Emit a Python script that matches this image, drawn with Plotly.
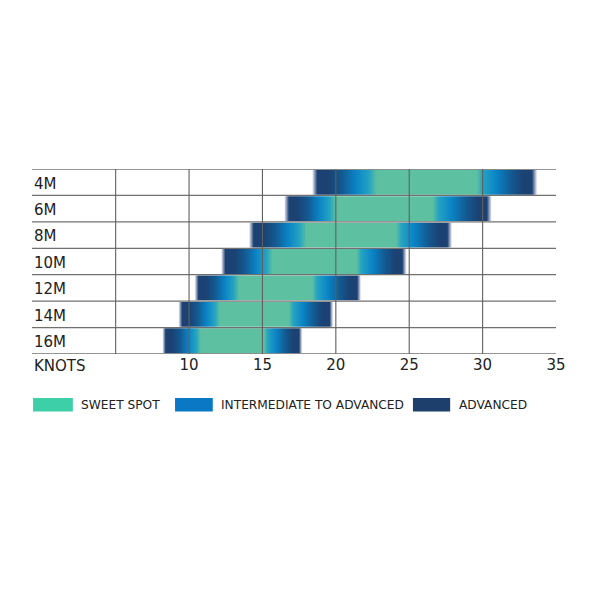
import plotly.graph_objects as go

sizes = ["4M", "6M", "8M", "10M", "12M", "14M", "16M"]
bar_start = [18.4, 16.5, 14.1, 12.2, 10.4, 9.3, 8.2]
sweet_start = [22.8, 20.0, 18.0, 15.7, 13.4, 12.1, 10.8]
sweet_end = [29.6, 26.6, 24.1, 21.4, 18.4, 16.8, 15.1]
bar_end = [33.7, 30.6, 27.9, 24.8, 21.7, 19.8, 17.7]

knot_ticks = [10, 15, 20, 25, 30, 35]
grid_knots = [5, 10, 15, 20, 25, 30]

legend_labels = ["SWEET SPOT", "INTERMEDIATE TO ADVANCED", "ADVANCED"]
legend_colors = ["#3dcfa7", "#0a78c4", "#1c3f6b"]

FADE = "#eeebf5"
NAVY = "#1b4272"
DEEP = "#13588f"
BLUE = "#0a84c6"
CYAN = "#25a3c2"
GREEN = "#5dc0a0"
FONT = "DejaVu Sans"


def bar_scale(s, a, b, e):
    f1 = (a - s) / (e - s)
    f2 = (b - s) / (e - s)
    r = 1 - f2
    return [
        [0.0, FADE], [0.022, NAVY],
        [f1 * 0.25, NAVY], [f1 * 0.45, DEEP], [f1 * 0.68, BLUE], [f1 * 0.88, CYAN], [f1, GREEN],
        [f2, GREEN], [f2 + r * 0.1, CYAN], [f2 + r * 0.32, BLUE], [f2 + r * 0.58, DEEP],
        [f2 + r * 0.78, NAVY], [0.978, NAVY], [1.0, FADE],
    ]


fig = go.Figure()
h = 0.47
for i, name in enumerate(sizes):
    s, e = bar_start[i], bar_end[i]
    fig.add_trace(go.Scatter(
        x=[s, e, e, s, s],
        y=[i - h, i - h, i + h, i + h, i - h],
        mode="lines",
        line={"width": 0},
        fill="toself",
        fillgradient={
            "type": "horizontal",
            "start": s,
            "stop": e,
            "colorscale": bar_scale(s, sweet_start[i], sweet_end[i], e),
        },
        name=name,
        showlegend=False,
        hoverinfo="skip",
    ))

shapes = []
for k in range(len(sizes) + 1):
    shapes.append(dict(type="line", xref="paper", yref="y", x0=0, x1=1, y0=k - 0.5, y1=k - 0.5,
                       line={"color": "#707070", "width": 1.3}, layer="above"))
for g in grid_knots:
    shapes.append(dict(type="line", xref="x", yref="y", x0=g, x1=g, y0=-0.5, y1=6.62,
                       line={"color": "#606060", "width": 1.1}, layer="above"))

annotations = []
for i, name in enumerate(sizes):
    annotations.append(dict(x=-0.7, y=i + 0.05, xref="x", yref="y", text=name, showarrow=False,
                            xanchor="left", yanchor="middle",
                            font={"family": FONT, "size": 15, "color": "#222222"}))
annotations.append(dict(x=-0.7, y=-0.065, xref="x", yref="paper", text="KNOTS", showarrow=False,
                        xanchor="left", yanchor="middle",
                        font={"family": FONT, "size": 15, "color": "#222222"}))

sw_x = [(0.002, 0.078, 0.090), (0.273, 0.345, 0.357), (0.727, 0.798, 0.811)]
for (x0, x1, tx), label, col in zip(sw_x, legend_labels, legend_colors):
    shapes.append(dict(type="rect", xref="paper", yref="paper", x0=x0, x1=x1, y0=-0.311, y1=-0.238,
                       fillcolor=col, line={"width": 0}))
    annotations.append(dict(x=tx, y=-0.274, xref="paper", yref="paper", text=label, showarrow=False,
                            xanchor="left", yanchor="middle",
                            font={"family": FONT, "size": 12.2, "color": "#222222"}))

fig.update_layout(
    width=592,
    height=592,
    paper_bgcolor="#ffffff",
    plot_bgcolor="#ffffff",
    margin={"l": 24, "r": 44, "t": 161, "b": 246},
    shapes=shapes,
    annotations=annotations,
    showlegend=False,
)
fig.update_xaxes(range=[-0.7, 35], tickvals=knot_ticks, ticktext=[str(t) for t in knot_ticks],
                 showgrid=False, zeroline=False, showline=False, ticks="",
                 tickfont={"family": FONT, "size": 15, "color": "#222222"})
fig.update_yaxes(range=[6.5, -0.5], showgrid=False, zeroline=False, showline=False,
                 showticklabels=False, ticks="")

fig.write_html("out.html")
